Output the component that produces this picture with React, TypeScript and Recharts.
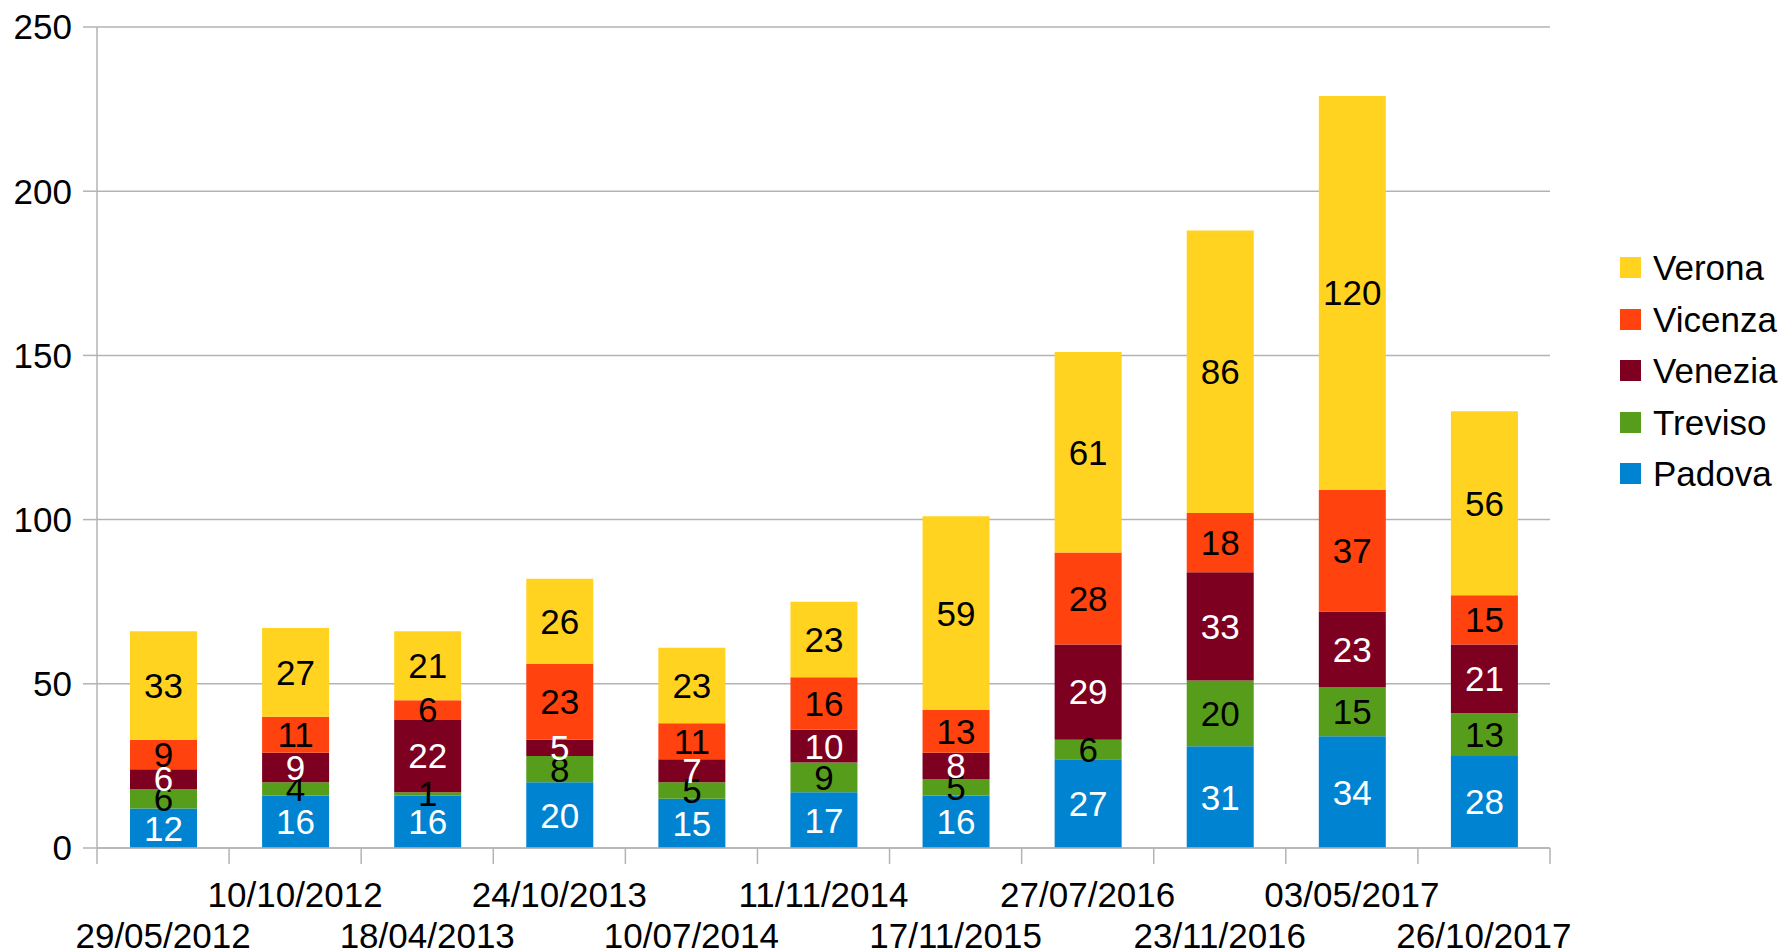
import React from 'react';
import { BarChart, Bar, XAxis, YAxis, CartesianGrid, LabelList } from 'recharts';

// survey dates (x categories)
const dates = [
  '29/05/2012', '10/10/2012', '18/04/2013', '24/10/2013', '10/07/2014', '11/11/2014',
  '17/11/2015', '27/07/2016', '23/11/2016', '03/05/2017', '26/10/2017',
];

// stacked from the bottom up
const padova = [12, 16, 16, 20, 15, 17, 16, 27, 31, 34, 28];
const treviso = [6, 4, 1, 8, 5, 9, 5, 6, 20, 15, 13];
const venezia = [6, 9, 22, 5, 7, 10, 8, 29, 33, 23, 21];
const vicenza = [9, 11, 6, 23, 11, 16, 13, 28, 18, 37, 15];
const verona = [33, 27, 21, 26, 23, 23, 59, 61, 86, 120, 56];

const yTicks = [0, 50, 100, 150, 200, 250];

const series = [
  { key: 'Padova', values: padova, color: '#0084d1', text: '#ffffff' },
  { key: 'Treviso', values: treviso, color: '#579d1c', text: '#000000' },
  { key: 'Venezia', values: venezia, color: '#7e0021', text: '#ffffff' },
  { key: 'Vicenza', values: vicenza, color: '#ff420e', text: '#000000' },
  { key: 'Verona', values: verona, color: '#ffd320', text: '#000000' },
];

const W = 1783;
const H = 952;
const M = { top: 27, right: 233, left: 0, bottom: 0 };
const Y_AXIS_W = 97;
const X_AXIS_H = 104;
const GRID = '#b3b3b3';
const FONT = 35;

const band = (W - Y_AXIS_W - M.right - M.left) / dates.length;

const chartData = dates.map((d, i) => {
  const row: Record<string, string | number> = { date: d };
  series.forEach((s) => {
    row[s.key] = s.values[i];
  });
  return row;
});

// LibreOffice style: tick marks between categories, labels staggered on two rows
const XTick = (props: any) => {
  const { x, y, index, payload } = props;
  const lower = index % 2 === 0;
  return (
    <g>
      <line x1={x - band / 2} x2={x - band / 2} y1={y} y2={y + 16} stroke={GRID} strokeWidth={1.5} />
      {index === dates.length - 1 && (
        <line x1={x + band / 2} x2={x + band / 2} y1={y} y2={y + 16} stroke={GRID} strokeWidth={1.5} />
      )}
      <text x={x} y={y + (lower ? 100 : 59)} textAnchor="middle" fontSize={FONT} fill="#000">
        {payload.value}
      </text>
    </g>
  );
};

const App: React.FC = () => {
  const legendItems = [...series].reverse();

  return (
    <div style={{ position: 'relative', width: W, height: H, fontFamily: '"Liberation Sans", Arial, sans-serif' }}>
      <style>{'body{margin:0}'}</style>
      <BarChart width={W} height={H} data={chartData} margin={M} barSize={67}>
        <CartesianGrid vertical={false} stroke={GRID} strokeWidth={1.5} />
        <XAxis
          dataKey="date"
          height={X_AXIS_H}
          interval={0}
          tickLine={false}
          tickSize={0}
          tickMargin={0}
          axisLine={{ stroke: GRID, strokeWidth: 1.5 }}
          tick={<XTick />}
        />
        <YAxis
          width={Y_AXIS_W}
          domain={[0, 250]}
          ticks={yTicks}
          interval={0}
          tickSize={14}
          tickMargin={11}
          tickLine={{ stroke: GRID, strokeWidth: 1.5 }}
          axisLine={{ stroke: GRID, strokeWidth: 1.5 }}
          tick={{ fontSize: FONT, fill: '#000' }}
        />
        <YAxis
          yAxisId="right"
          orientation="right"
          width={0}
          tick={false}
          tickLine={false}
          axisLine={{ stroke: GRID, strokeWidth: 1.5 }}
        />
        {series.map((s) => (
          <Bar key={s.key} dataKey={s.key} stackId="a" fill={s.color} isAnimationActive={false}>
            <LabelList dataKey={s.key} position="center" fill={s.text} fontSize={FONT} />
          </Bar>
        ))}
      </BarChart>

      <div style={{ position: 'absolute', left: 1620, top: 242 }}>
        {legendItems.map((s) => (
          <div key={s.key} style={{ display: 'flex', alignItems: 'center', height: 51.5 }}>
            <span style={{ display: 'inline-block', width: 21, height: 21, background: s.color, marginRight: 12 }} />
            <span style={{ fontSize: FONT, color: '#000', lineHeight: 1 }}>{s.key}</span>
          </div>
        ))}
      </div>
    </div>
  );
};

export default App;
